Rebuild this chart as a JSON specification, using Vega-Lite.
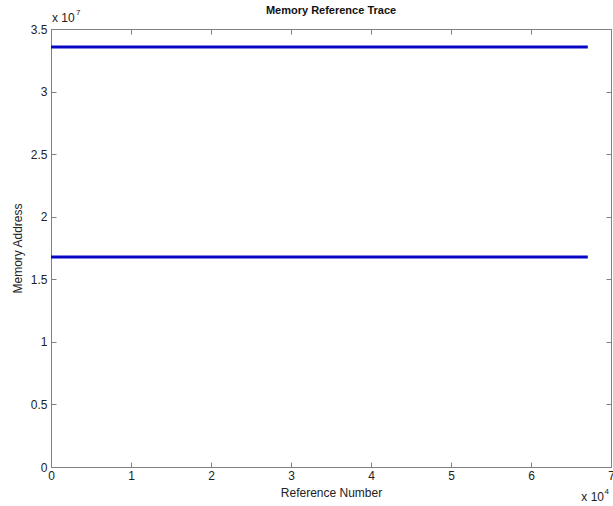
{
  "$schema": "https://vega.github.io/schema/vega-lite/v6.json",
  "autosize": "none",
  "width": 560,
  "height": 438,
  "padding": {"left": 51, "top": 29, "right": 2, "bottom": 39},
  "background": "white",
  "title": {
    "text": "Memory Reference Trace",
    "font": "Liberation Sans",
    "fontSize": 11,
    "fontWeight": "bold",
    "color": "#111",
    "offset": 9,
    "dy": 16,
    "anchor": "middle"
  },
  "config": {
    "view": {"stroke": null},
    "axis": {
      "grid": false,
      "domainColor": "#808080",
      "tickColor": "#808080",
      "tickSize": -5,
      "labelFlush": false,
      "labelFont": "Liberation Sans",
      "labelFontSize": 12,
      "labelColor": "#222",
      "titleFont": "Liberation Sans",
      "titleFontSize": 12,
      "titleFontWeight": "normal",
      "titleColor": "#222"
    }
  },
  "data": {
    "values": [
      {"trace": "high", "ref": 0, "addr": 33554432},
      {"trace": "high", "ref": 67100, "addr": 33554432},
      {"trace": "low", "ref": 0, "addr": 16777216},
      {"trace": "low", "ref": 67100, "addr": 16777216}
    ]
  },
  "resolve": {"axis": {"x": "independent", "y": "independent"}},
  "layer": [
    {
      "mark": {"type": "line", "color": "#0808c4", "strokeWidth": 3},
      "encoding": {
        "x": {
          "field": "ref", "type": "quantitative",
          "scale": {"domain": [0, 70000], "nice": false, "zero": false},
          "axis": {
            "title": "Reference Number",
            "titleY": 20,
            "values": [0, 10000, 20000, 30000, 40000, 50000, 60000, 70000],
            "labelExpr": "format(datum.value / 10000, '')",
            "labelPadding": 8
          }
        },
        "y": {
          "field": "addr", "type": "quantitative",
          "scale": {"domain": [0, 35000000], "nice": false},
          "axis": {
            "title": "Memory Address",
            "titleX": -27,
            "values": [0, 5000000, 10000000, 15000000, 20000000, 25000000, 30000000, 35000000],
            "labelExpr": "format(datum.value / 10000000, '')",
            "labelPadding": 9
          }
        },
        "detail": {"field": "trace"}
      }
    },
    {
      "mark": {"type": "line", "opacity": 0},
      "encoding": {
        "x": {
          "field": "ref", "type": "quantitative",
          "axis": {
            "orient": "top", "title": null, "labels": false,
            "values": [0, 10000, 20000, 30000, 40000, 50000, 60000, 70000]
          }
        },
        "y": {
          "field": "addr", "type": "quantitative",
          "axis": {
            "orient": "right", "title": null, "labels": false,
            "values": [0, 5000000, 10000000, 15000000, 20000000, 25000000, 30000000, 35000000]
          }
        },
        "detail": {"field": "trace"}
      }
    },
    {
      "data": {"values": [{"ref": 0, "addr": 35000000, "txt": "x 10", "sup": "7"}]},
      "layer": [
        {
          "mark": {"type": "text", "align": "left", "baseline": "alphabetic", "dx": 1, "dy": -7, "font": "Liberation Sans", "fontSize": 12, "color": "#222"},
          "encoding": {
            "x": {"field": "ref", "type": "quantitative", "axis": null},
            "y": {"field": "addr", "type": "quantitative", "axis": null},
            "text": {"field": "txt"}
          }
        },
        {
          "mark": {"type": "text", "align": "left", "baseline": "alphabetic", "dx": 25, "dy": -14, "font": "Liberation Sans", "fontSize": 8, "color": "#222"},
          "encoding": {
            "x": {"field": "ref", "type": "quantitative", "axis": null},
            "y": {"field": "addr", "type": "quantitative", "axis": null},
            "text": {"field": "sup"}
          }
        }
      ]
    },
    {
      "data": {"values": [{"ref": 70000, "addr": 0, "txt": "x 10", "sup": "4"}]},
      "layer": [
        {
          "mark": {"type": "text", "align": "right", "baseline": "alphabetic", "dx": -7, "dy": 34, "font": "Liberation Sans", "fontSize": 12, "color": "#222"},
          "encoding": {
            "x": {"field": "ref", "type": "quantitative", "axis": null},
            "y": {"field": "addr", "type": "quantitative", "axis": null},
            "text": {"field": "txt"}
          }
        },
        {
          "mark": {"type": "text", "align": "right", "baseline": "alphabetic", "dx": -2, "dy": 27, "font": "Liberation Sans", "fontSize": 8, "color": "#222"},
          "encoding": {
            "x": {"field": "ref", "type": "quantitative", "axis": null},
            "y": {"field": "addr", "type": "quantitative", "axis": null},
            "text": {"field": "sup"}
          }
        }
      ]
    }
  ]
}
